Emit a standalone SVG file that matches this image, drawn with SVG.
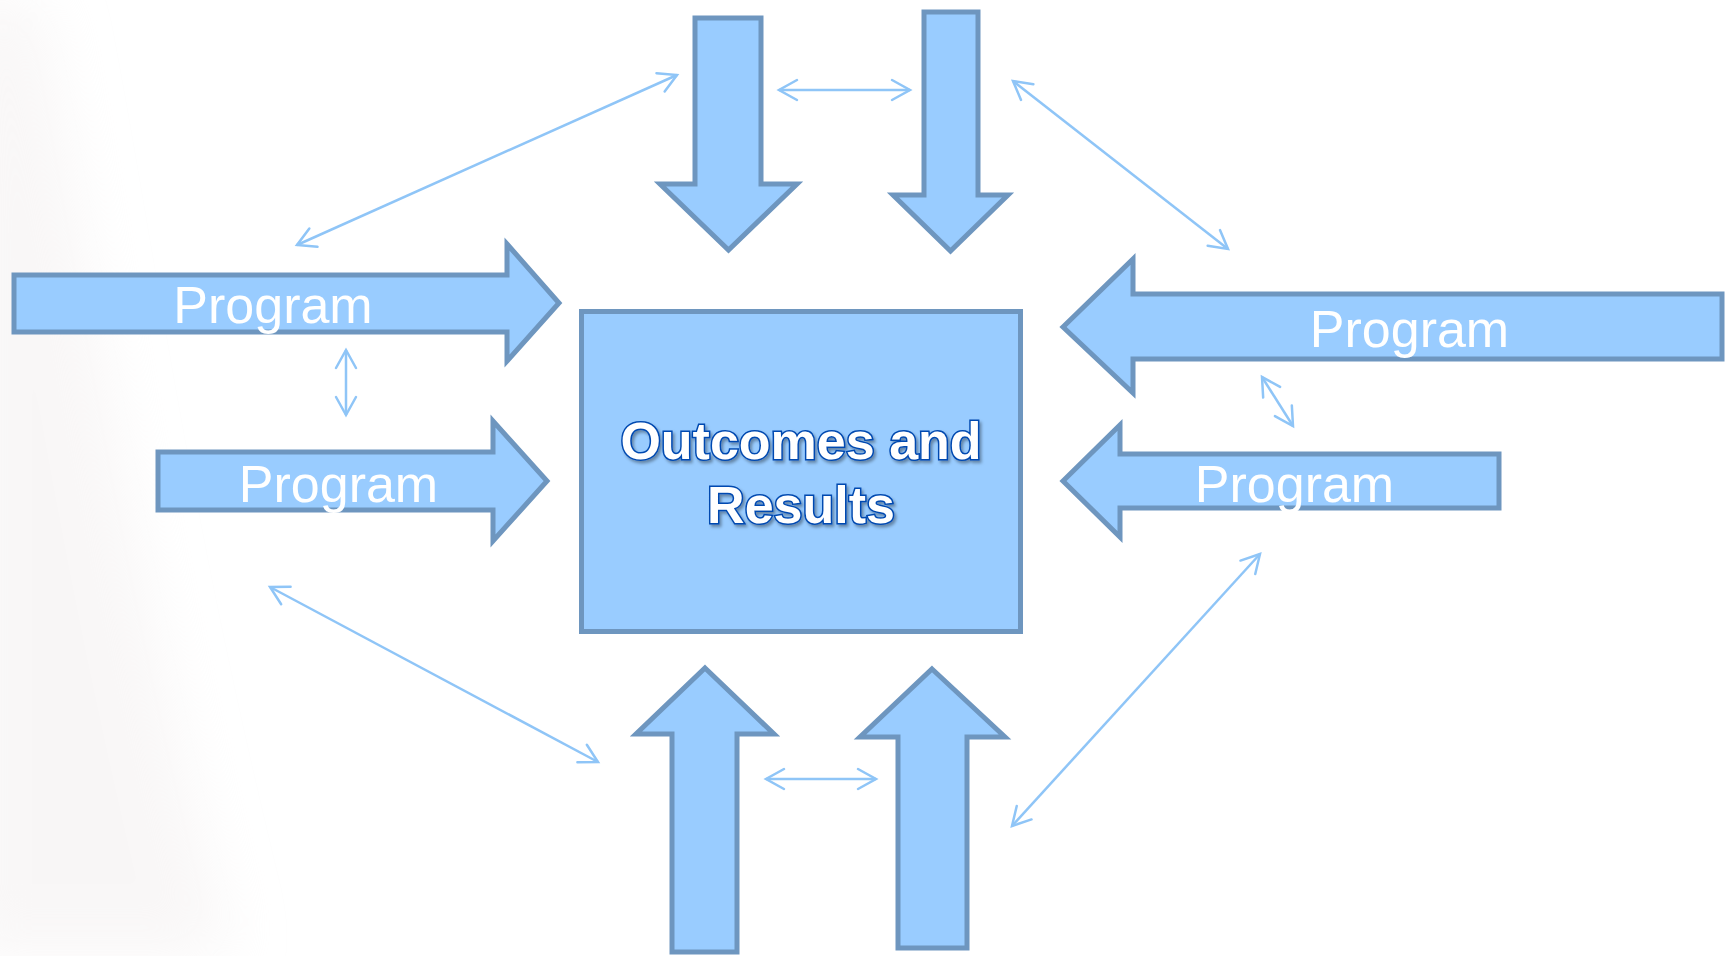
<svg xmlns="http://www.w3.org/2000/svg" width="1728" height="956" viewBox="0 0 1728 956">
  <defs>
    <style>
      .blk { fill: #99CCFF; stroke: #6E96BF; stroke-width: 5; stroke-linejoin: miter; stroke-miterlimit: 10; }
      .lbl { font-family: "Liberation Sans", Arial, sans-serif; font-size: 52px; fill: #FFFFFF; text-anchor: middle; }
      .title { font-family: "Liberation Sans", Arial, sans-serif; font-size: 52px; font-weight: bold; fill: #FFFFFF; stroke: #0049B0; stroke-width: 3; paint-order: stroke; text-anchor: middle; }
      .con { stroke: #8FC5F7; stroke-width: 2.5; fill: none; marker-start: url(#oh); marker-end: url(#oh); }
    </style>
    <marker id="oh" markerUnits="userSpaceOnUse" viewBox="-22 -13 26 26" refX="0" refY="0" markerWidth="26" markerHeight="26" orient="auto-start-reverse">
      <path d="M-18,-10 L0,0 L-18,10" fill="none" stroke="#8FC5F7" stroke-width="2.5" stroke-linecap="round" stroke-linejoin="miter"/>
    </marker>
    <filter id="shadow" x="-10%" y="-20%" width="120%" height="140%">
      <feDropShadow dx="2" dy="2.5" stdDeviation="1.5" flood-color="#000000" flood-opacity="0.35"/>
    </filter>
    <filter id="soft" x="-50%" y="-50%" width="200%" height="200%">
      <feGaussianBlur stdDeviation="30"/>
    </filter>
  </defs>
  <rect x="0" y="0" width="1728" height="956" fill="#FFFFFF"/>
  <g opacity="0.5" filter="url(#soft)">
    <path d="M-40,0 H40 C90,250 120,520 230,956 H-40 Z" fill="#F3EFEF"/>
  </g>

  <g id="connectors">
    <line class="con" x1="297" y1="245" x2="677" y2="75"/>
    <line class="con" x1="779" y1="90" x2="910" y2="90"/>
    <line class="con" x1="1013" y1="81" x2="1228" y2="249"/>
    <line class="con" x1="346" y1="350" x2="346" y2="415"/>
    <line class="con" x1="1262" y1="377" x2="1293" y2="426"/>
    <line class="con" x1="270" y1="587" x2="598" y2="762"/>
    <line class="con" x1="766" y1="779" x2="876" y2="779"/>
    <line class="con" x1="1260" y1="554" x2="1012" y2="826"/>
  </g>

  <g id="down-arrow-1">
    <path class="blk" d="M695,18 H761 V184 H797 L728.5,250 L660,184 H695 Z"/>
  </g>
  <g id="down-arrow-2">
    <path class="blk" d="M924,12 H978 V195 H1008 L950.5,251 L893,195 H924 Z"/>
  </g>
  <g id="up-arrow-1">
    <path class="blk" d="M705,668 L774,734 H737 V952 H672 V734 H636 Z"/>
  </g>
  <g id="up-arrow-2">
    <path class="blk" d="M932,669 L1005,737 H967 V948 H898 V737 H860 Z"/>
  </g>

  <g id="program-left-1">
    <path class="blk" d="M14,275 H507 V244 L559,303 L507,361 V332 H14 Z"/>
    <text class="lbl" x="273" y="323">Program</text>
  </g>
  <g id="program-left-2">
    <path class="blk" d="M158,452 H493 V421 L547,481 L493,541 V510 H158 Z"/>
    <text class="lbl" x="338.5" y="502">Program</text>
  </g>
  <g id="program-right-1">
    <path class="blk" d="M1063,327 L1133,259 V294 H1722 V359 H1133 V393 Z"/>
    <text class="lbl" x="1409.5" y="347">Program</text>
  </g>
  <g id="program-right-2">
    <path class="blk" d="M1063,481 L1120,425 V454 H1499 V508 H1120 V537 Z"/>
    <text class="lbl" x="1294.5" y="502">Program</text>
  </g>

  <g id="outcomes">
    <rect class="blk" x="581.5" y="311.5" width="439" height="320"/>
    <g filter="url(#shadow)">
      <text class="title" x="801" y="459">Outcomes and</text>
      <text class="title" x="801" y="523">Results</text>
    </g>
  </g>
</svg>
